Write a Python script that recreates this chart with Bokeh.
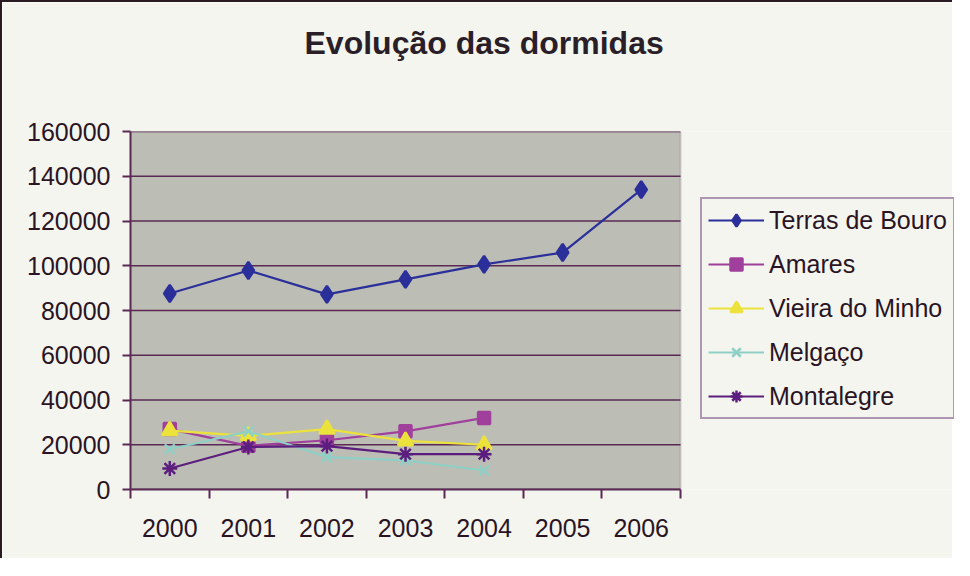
from bokeh.plotting import figure
from bokeh.models import (Legend, LegendItem, FixedTicker, NumeralTickFormatter, Range1d,
                          Title, BoxAnnotation)
from bokeh.embed import file_html
from bokeh.resources import INLINE

years = [2000, 2001, 2002, 2003, 2004, 2005, 2006]
years_short = [2000, 2001, 2002, 2003, 2004]
terras = [87600, 97900, 87200, 93900, 100600, 105900, 134000]
amares = [27000, 19500, 22000, 26000, 32000]
vieira = [26300, 24000, 27000, 21700, 20000]
melgaco = [18000, 26000, 14500, 13000, 8500]
montalegre = [9400, 19000, 19400, 15800, 15800]
y_ticks = [0, 20000, 40000, 60000, 80000, 100000, 120000, 140000, 160000]

FONT = "Liberation Sans"
DARK = "#5a2a55"
BG = "#f4f5ef"

# layout (pixels)
W, H = 952, 558
LEFT, TOP, BOTTOM = 128, 129, 71
PLOT_W = 550                      # width of the grey plot area
FRAME_W = W - LEFT                # frame extends under the legend
x0 = years[0] - 0.5
x1 = years[-1] + 0.5
x_end = x0 + (x1 - x0) * FRAME_W / PLOT_W
category_bounds = [y - 0.5 for y in years] + [x1]

p = figure(width=W, height=H, output_backend="svg", toolbar_location=None,
           x_range=Range1d(x0, x_end), y_range=Range1d(y_ticks[0], y_ticks[-1]),
           min_border_left=LEFT, min_border_right=0, min_border_top=TOP,
           min_border_bottom=BOTTOM)
p.background_fill_color = BG
p.border_fill_color = BG
p.outline_line_color = None

# grey plot area
p.add_layout(BoxAnnotation(left=x0, right=x1, bottom=y_ticks[0], top=y_ticks[-1],
                           fill_color="#bcbdb5", fill_alpha=1,
                           line_color="#8a7a88", line_width=2, level="underlay"))

# real title (outermost) + spacer title next to the frame
p.title.text = "Evolução das dormidas"
p.title.text_font = FONT
p.title.text_font_size = "32px"
p.title.text_font_style = "bold"
p.title.text_color = "#2a1f28"
p.title.align = "left"
p.title.offset = 174
p.title.standoff = 0
p.add_layout(Title(text=" ", text_font_size="1px", standoff=68), "above")

# axes
p.xaxis.bounds = (x0, x1)
p.xaxis.ticker = FixedTicker(ticks=years, minor_ticks=category_bounds)
p.xaxis.major_tick_line_color = None
p.xaxis.major_tick_out = 0
p.xaxis.major_tick_in = 0
p.xaxis.minor_tick_out = 9
p.xaxis.minor_tick_in = 0
p.xaxis.minor_tick_line_color = DARK
p.xaxis.minor_tick_line_width = 2
p.xaxis.major_label_standoff = 20
p.yaxis.ticker = FixedTicker(ticks=y_ticks)
p.yaxis.formatter = NumeralTickFormatter(format="0")
p.yaxis.minor_tick_line_color = None
p.yaxis.major_tick_out = 8
p.yaxis.major_tick_in = 0
p.yaxis.major_tick_line_color = DARK
p.yaxis.major_tick_line_width = 2
p.yaxis.major_label_standoff = 12
for ax in (p.xaxis, p.yaxis):
    ax.axis_line_color = DARK
    ax.axis_line_width = 2
    ax.major_label_text_font = FONT
    ax.major_label_text_font_size = "25px"
    ax.major_label_text_color = "#2a1424"

p.xgrid.grid_line_color = None
p.ygrid.grid_line_color = None
# horizontal gridlines limited to the plot area
p.segment(x0=[x0] * len(y_ticks), y0=y_ticks, x1=[x1] * len(y_ticks), y1=y_ticks,
          line_color=DARK, line_width=1.5)

series = [
    ("Terras de Bouro", years, terras, "#2b2f9a", "diamond", 17),
    ("Amares", years_short, amares, "#a0409c", "square", 12),
    ("Vieira do Minho", years_short, vieira, "#ece23c", "triangle", 15),
    ("Melgaço", years_short, melgaco, "#8fd0c6", "x", 14),
    ("Montalegre", years_short, montalegre, "#5c1e7e", "asterisk", 15),
]

items = []
for name, xs, ys, color, marker, size in series:
    lr = p.line(xs, ys, line_color=color, line_width=2.2)
    mr = p.scatter(xs, ys, marker=marker, size=size, fill_color=color,
                   line_color=color, line_width=2.5)
    items.append(LegendItem(label=name, renderers=[lr, mr]))

legend = Legend(items=items, location=(570, 70))
legend.label_text_font = FONT
legend.label_text_font_size = "25px"
legend.label_text_color = "#2a1424"
legend.glyph_width = 56
legend.glyph_height = 30
legend.label_height = 30
legend.spacing = 14
legend.padding = 6
legend.margin = 0
legend.label_standoff = 5
legend.border_line_color = "#6a3a78"
legend.border_line_width = 2
legend.background_fill_color = BG
legend.background_fill_alpha = 1
p.add_layout(legend, "center")

p.styles = {"border-left": "2px solid #2a1a22", "border-top": "2px solid #2a1a22"}

open("out.html", "w").write(file_html(p, INLINE))
